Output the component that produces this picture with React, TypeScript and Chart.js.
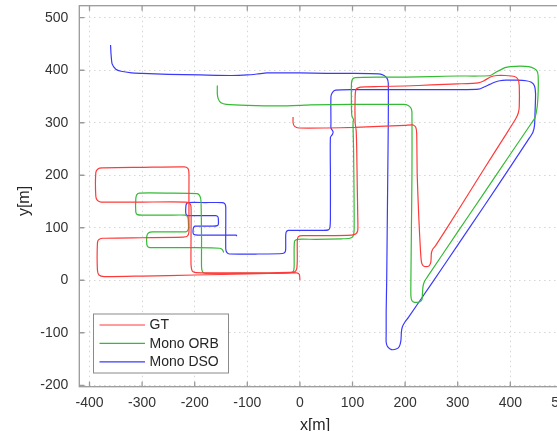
import { useEffect, useRef } from "react";
import { Chart, registerables } from "chart.js";

Chart.register(...registerables);

const xTicks = [-400, -300, -200, -100, 0, 100, 200, 300, 400, 500];
const yTicks = [-200, -100, 0, 100, 200, 300, 400, 500];
const seriesNames = ["GT", "Mono ORB", "Mono DSO"];
const seriesColors = ["#ff3a3a", "#33bb33", "#3a3aff"];

const gtPath = [
  [-13, 311], [-13, 300], [-10, 293], [-2, 290], [50, 290], [105, 291], [150, 293], [200, 295], [214, 296],
  [220, 292], [222, 280], [223, 200], [226, 120], [229, 60], [231, 35], [234, 28], [240, 26], [246, 28],
  [249, 35], [250, 52], [253, 60], [258, 66], [300, 132], [350, 212], [390, 275], [410, 307], [415, 318],
  [417, 330], [417, 370], [415, 382], [408, 388], [390, 390], [375, 390], [362, 387], [350, 380], [339, 376],
  [300, 374], [250, 372], [200, 370], [150, 369], [115, 368], [107, 364], [105, 350], [105, 300], [107, 285],
  [108, 250], [109, 180], [110, 120], [110, 95], [106, 88], [98, 86], [50, 85], [5, 85], [-3, 83], [-5, 75],
  [-5, 40], [-6, 22], [-10, 16], [-20, 15], [-60, 14], [-120, 14], [-180, 14], [-200, 15], [-205, 18],
  [-207, 30], [-207, 80], [-207, 140], [-210, 147], [-218, 149], [-300, 149], [-378, 149], [-385, 152],
  [-388, 160], [-388, 205], [-384, 212], [-376, 214], [-300, 215], [-220, 216], [-213, 213], [-211, 205],
  [-211, 160], [-211, 120], [-211, 92], [-214, 84], [-222, 82], [-300, 81], [-375, 80], [-383, 77],
  [-385, 70], [-385, 20], [-382, 10], [-372, 7], [-300, 8], [-200, 10], [-100, 12], [-20, 14], [-6, 14],
  [-1, 11], [0, 0],
];

const orbPath = [
  [-157, 371], [-157, 355], [-155, 345], [-150, 338], [-140, 335], [-100, 333], [-40, 332], [0, 333],
  [20, 334], [100, 335], [150, 335], [197, 335], [206, 333], [211, 328], [213, 320], [213, 200], [212, 100],
  [211, 0], [211, -30], [213, -39], [218, -42], [228, -41], [232, -37], [233, -25], [234, -12], [237, -2],
  [242, 6], [300, 92], [350, 166], [400, 240], [440, 299], [447, 310], [451, 330], [453, 360], [453, 388],
  [451, 398], [446, 403], [435, 407], [419, 408], [400, 407], [390, 405], [374, 397], [362, 390], [340, 389],
  [300, 389], [250, 388], [200, 387], [150, 387], [105, 386], [100, 383], [98, 375], [98, 330], [99, 312],
  [102, 306], [101, 300], [102, 250], [103, 150], [103, 95], [101, 84], [95, 80], [80, 79], [30, 78],
  [-5, 78], [-10, 75], [-11, 60], [-11, 25], [-13, 16], [-20, 14], [-60, 13], [-120, 13], [-180, 13],
  [-185, 16], [-187, 25], [-187, 80], [-188, 150], [-190, 160], [-195, 165], [-250, 166], [-305, 166],
  [-310, 163], [-312, 155], [-312, 130], [-309, 125], [-300, 124], [-250, 124], [-218, 124], [-213, 120],
  [-212, 110], [-212, 98], [-215, 93], [-222, 92], [-280, 92], [-288, 90], [-291, 84], [-291, 68],
  [-288, 63], [-280, 62], [-200, 62], [-152, 61], [-147, 58], [-145, 53],
];

const dsoPath = [
  [-360, 448], [-359, 430], [-357, 412], [-350, 402], [-340, 398], [-320, 395], [-300, 394], [-250, 392],
  [-190, 391], [-130, 390], [-100, 391], [-80, 393], [-63, 395], [-30, 395], [0, 395], [50, 394], [100, 394],
  [150, 393], [160, 390], [166, 384], [168, 375], [168, 300], [167, 200], [166, 100], [165, 0], [164, -60],
  [164, -100], [164, -118], [167, -127], [174, -132], [183, -131], [189, -126], [192, -115], [193, -98],
  [195, -88], [200, -79], [206, -71], [250, -7], [300, 67], [350, 141], [400, 216], [437, 272], [443, 282],
  [446, 295], [447, 320], [448, 355], [446, 370], [440, 377], [430, 380], [412, 381], [392, 381], [380, 380],
  [370, 377], [361, 373], [350, 368], [340, 364], [300, 363], [250, 363], [200, 363], [150, 363], [100, 363],
  [68, 362], [62, 358], [59, 350], [59, 300], [59, 290], [63, 283], [62, 278], [58, 272], [58, 200],
  [58, 120], [57, 100], [54, 96], [45, 95], [0, 95], [-22, 95], [-26, 92], [-27, 85], [-27, 60], [-28, 54],
  [-33, 51], [-80, 50], [-134, 50], [-139, 53], [-141, 60], [-141, 140], [-143, 146], [-148, 148],
  [-180, 148], [-212, 148], [-216, 145], [-217, 138], [-217, 128], [-215, 124], [-208, 123], [-180, 123],
  [-160, 123], [-156, 121], [-155, 116], [-155, 107], [-157, 104], [-165, 103], [-199, 103], [-202, 101],
  [-203, 97], [-203, 90], [-201, 87], [-195, 86], [-150, 86], [-121, 86], [-120, 84],
];

const paths = [gtPath, orbPath, dsoPath];

const FONT = "'Liberation Sans', Arial, Helvetica, sans-serif";

const framePlugin = {
  id: "matlabFrame",
  afterDraw(chart: any) {
    const { ctx, chartArea } = chart;
    const { left, right, top, bottom } = chartArea;
    const xs = chart.scales.x;
    const ys = chart.scales.y;
    ctx.save();
    ctx.strokeStyle = "#9a9a9a";
    ctx.lineWidth = 1.3;
    ctx.strokeRect(left, top, right - left, bottom - top);
    ctx.beginPath();
    for (const v of xTicks) {
      const px = xs.getPixelForValue(v);
      ctx.moveTo(px, bottom);
      ctx.lineTo(px, bottom - 5);
      ctx.moveTo(px, top);
      ctx.lineTo(px, top + 5);
    }
    for (const v of yTicks) {
      const py = ys.getPixelForValue(v);
      ctx.moveTo(left, py);
      ctx.lineTo(left + 5, py);
    }
    ctx.stroke();

    const bx = 93.5, by = 314, bw = 135, bh = 59;
    ctx.fillStyle = "#ffffff";
    ctx.fillRect(bx, by, bw, bh);
    ctx.strokeStyle = "#8a8a8a";
    ctx.lineWidth = 1;
    ctx.strokeRect(bx, by, bw, bh);
    ctx.font = `14px ${FONT}`;
    ctx.textBaseline = "middle";
    ctx.textAlign = "left";
    seriesNames.forEach((name, i) => {
      const y = 325 + i * 18.4;
      ctx.strokeStyle = seriesColors[i];
      ctx.lineWidth = 1.2;
      ctx.beginPath();
      ctx.moveTo(99.5, y);
      ctx.lineTo(145, y);
      ctx.stroke();
      ctx.fillStyle = "#262626";
      ctx.fillText(name, 149.5, y + 0.5);
    });

    ctx.fillStyle = "#262626";
    ctx.font = `16px ${FONT}`;
    ctx.textAlign = "center";
    ctx.textBaseline = "middle";
    ctx.fillText("x[m]", 315, 426);
    ctx.save();
    ctx.translate(25, 201);
    ctx.rotate(-Math.PI / 2);
    ctx.fillText("y[m]", 0, 0);
    ctx.restore();
    ctx.restore();
  },
};

export default function App() {
  const ref = useRef<HTMLCanvasElement>(null);
  useEffect(() => {
    const canvas = ref.current!;
    const tickFont = { family: FONT, size: 14 };
    const chart = new Chart(canvas, {
      type: "scatter",
      data: {
        datasets: paths.map((p, i) => ({
          label: seriesNames[i],
          data: p.map(([x, y]) => ({ x, y })),
          showLine: true,
          borderColor: seriesColors[i],
          backgroundColor: seriesColors[i],
          borderWidth: 1.2,
          pointRadius: 0,
          pointHoverRadius: 0,
          tension: 0.2,
          fill: false,
        })),
      },
      options: {
        animation: false,
        responsive: false,
        maintainAspectRatio: false,
        devicePixelRatio: 1,
        events: [],
        layout: { padding: { left: 0, top: 5.7, right: 0, bottom: 0 } },
        plugins: {
          legend: { display: false },
          tooltip: { enabled: false },
          title: { display: false },
        },
        scales: {
          x: {
            type: "linear",
            min: -419.4,
            max: 570.5,
            afterBuildTicks: (s: any) => {
              s.ticks = xTicks.map((v) => ({ value: v }));
            },
            afterFit: (s: any) => {
              s.height = 44.3;
              s.paddingLeft = 0;
              s.paddingRight = 0;
              s.paddingTop = 0;
              s.paddingBottom = 0;
            },
            grid: { color: "#d6d6d6", lineWidth: 1, drawTicks: false },
            border: { display: false, dash: [1.5, 3.5] },
            ticks: {
              font: tickFont,
              color: "#333333",
              padding: 8,
              autoSkip: false,
              maxRotation: 0,
              callback: (v: any) => String(v),
            },
          },
          y: {
            type: "linear",
            min: -202.7,
            max: 522.9,
            afterBuildTicks: (s: any) => {
              s.ticks = yTicks.map((v) => ({ value: v }));
            },
            afterFit: (s: any) => {
              s.width = 79.3;
              s.paddingLeft = 0;
              s.paddingRight = 0;
              s.paddingTop = 0;
              s.paddingBottom = 0;
            },
            grid: { color: "#d6d6d6", lineWidth: 1, drawTicks: false },
            border: { display: false, dash: [1.5, 3.5] },
            ticks: {
              font: tickFont,
              color: "#333333",
              padding: 11,
              autoSkip: false,
              callback: (v: any) => String(v),
            },
          },
        },
      } as any,
      plugins: [framePlugin],
    });
    return () => chart.destroy();
  }, []);
  return (
    <div
      style={{
        position: "fixed",
        left: 0,
        top: 0,
        width: 557,
        height: 431,
        overflow: "hidden",
        background: "#ffffff",
      }}
    >
      <canvas ref={ref} width={600} height={431} style={{ display: "block", width: 600, height: 431 }} />
    </div>
  );
}
